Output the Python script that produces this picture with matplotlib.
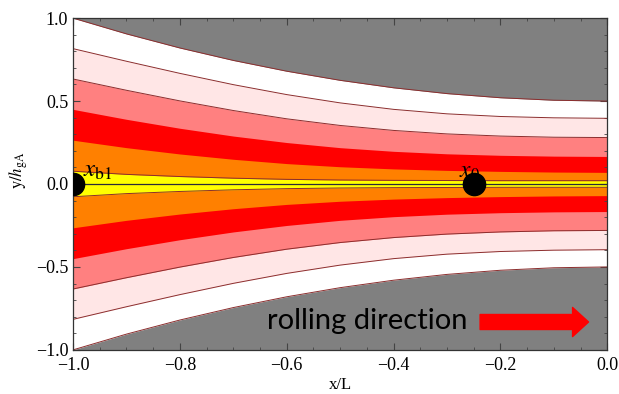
import matplotlib
matplotlib.use('Agg')
import matplotlib.pyplot as plt
from matplotlib.ticker import MultipleLocator

plt.rcParams['font.family'] = ['Liberation Serif', 'DejaVu Serif']
plt.rcParams['mathtext.fontset'] = 'stix'

# x positions where the band edges were read (x/L)
x_pos = [-1.0, -0.9, -0.8, -0.7, -0.6, -0.5, -0.4, -0.3, -0.2, -0.1, 0.0]

# upper edges of each band (y/h_gA); the plot is mirrored about y = 0
gap_edge = [1.0, 0.905, 0.82, 0.745, 0.68, 0.625, 0.58, 0.545, 0.52, 0.505, 0.5]
white_edge = [0.816, 0.740, 0.667, 0.599, 0.539, 0.489, 0.450, 0.423, 0.407, 0.399, 0.396]
lightpink_edge = [0.633, 0.565, 0.501, 0.443, 0.393, 0.353, 0.323, 0.302, 0.289, 0.282, 0.28]
pink_edge = [0.45, 0.39, 0.336, 0.289, 0.25, 0.219, 0.197, 0.182, 0.173, 0.168, 0.166]
red_edge = [0.264, 0.219, 0.181, 0.149, 0.123, 0.104, 0.091, 0.082, 0.076, 0.072, 0.07]
orange_edge = [0.077, 0.058, 0.045, 0.035, 0.028, 0.024, 0.022, 0.021, 0.02, 0.02, 0.02]

bands = [gap_edge, white_edge, lightpink_edge, pink_edge, red_edge, orange_edge]
band_colors = ['white', '#ffe6e6', '#ff8080', '#ff0000', '#ff8000', '#ffff00']
edge_lines = [True, True, True, False, False, True]

# points on the centre line
point_x = [-1.0, -0.25]
point_labels = [r'$x_{\rm b1}$', r'$x_{0}$']

fig = plt.figure(figsize=(6.19, 3.94), dpi=100)
ax = fig.add_axes([0.118, 0.112, 0.863, 0.842])
ax.set_facecolor('#808080')

for edge, col, line in zip(bands, band_colors, edge_lines):
    lower = [-v for v in edge]
    ax.fill_between(x_pos, lower, edge, color=col, lw=0, zorder=1)
    if line:
        ax.plot(x_pos, edge, color='#8b2d2d', lw=0.7, zorder=2)
        ax.plot(x_pos, lower, color='#8b2d2d', lw=0.7, zorder=2)

ax.axhline(0, color='#2a2a3a', lw=0.9, zorder=2)

# labels sit under the dots
ax.text(-0.981, 0.045, point_labels[0], fontsize=18, ha='left', va='baseline', zorder=3)
ax.text(-0.258, 0.035, point_labels[1], fontsize=17, ha='center', va='baseline', zorder=3)
ax.plot(point_x, [0, 0], 'o', color='black', ms=16, zorder=4)

# rolling direction note
ax.text(-0.45, -0.823, 'rolling direction', family=['Lato', 'DejaVu Sans'],
        fontsize=21, ha='center', va='center', zorder=5)
ax.annotate('', xy=(-0.035, -0.832), xytext=(-0.238, -0.832),
            arrowprops=dict(arrowstyle='simple,head_width=21,head_length=11.5,tail_width=10.8',
                            mutation_scale=1, color='#ff0000', shrinkA=0, shrinkB=0),
            zorder=5)

ax.set_xlim(-1, 0)
ax.set_ylim(-1, 1)
ax.xaxis.set_major_locator(MultipleLocator(0.2))
ax.xaxis.set_minor_locator(MultipleLocator(0.05))
ax.yaxis.set_major_locator(MultipleLocator(0.5))
ax.yaxis.set_minor_locator(MultipleLocator(0.1))
ax.tick_params(which='both', direction='in', top=True, right=True, color='#444444')
ax.tick_params(which='major', length=5, width=0.8, labelsize=13)
ax.tick_params(axis='x', which='major', pad=5)
ax.tick_params(which='minor', length=2.5, width=0.6)
for sp in ax.spines.values():
    sp.set_color('#333333')
    sp.set_linewidth(0.9)

ax.set_xlabel('x/L', fontsize=12, labelpad=2)
ax.set_ylabel(r'$\mathrm{y}/h_{\mathrm{gA}}$', fontsize=12)
ax.yaxis.set_label_coords(-0.08, 0.54)

fig.savefig('out.png', dpi=100)
